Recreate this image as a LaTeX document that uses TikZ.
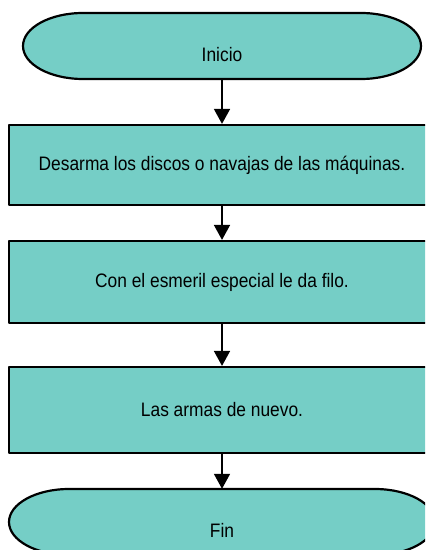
\documentclass[tikz,border=0pt]{standalone}
\usepackage{fontspec}
\setmainfont{Liberation Sans}[FakeStretch=0.89]
\usepackage{tikz}
\usetikzlibrary{arrows.meta}
\definecolor{teal}{RGB}{117, 206, 198}
\newcommand{\terminador}[6]{
  % #1 nombre, #2/#3 centro, #4 media anchura, #5 texto, #6 anchura
  \pgfmathsetmacro{\xa}{#2 - #4 + 60}
  \pgfmathsetmacro{\xb}{#2 + #4 - 60}
  \filldraw[forma] (\xa, #3 + 33) -- (\xb, #3 + 33)
    arc[start angle=90, end angle=-90, x radius=60bp, y radius=33bp]
    -- (\xa, #3 - 33)
    arc[start angle=270, end angle=90, x radius=60bp, y radius=33bp]
    -- cycle;
  \node[terminal, minimum width=#6] (#1) at (#2, #3) {#5};
}

\begin{document}
\begin{tikzpicture}[x=1bp, y=1bp,
    forma/.style={fill=teal, draw=black, line width=2.2bp, line join=round},
    terminal/.style={draw=none, minimum height=66bp, inner sep=0pt,
      text height=31.8bp, text depth=0pt, font=\fontsize{19.5bp}{23bp}\selectfont},
    paso/.style={forma, rectangle, minimum width=426bp, inner sep=0pt,
      font=\fontsize{19.5bp}{23bp}\selectfont},
    flecha/.style={-{Triangle[length=15bp, width=16bp]}, line width=1.7bp}]
  \useasboundingbox (0, 0) rectangle (425, -550);
  \clip (0, 0) rectangle (425, -550);

  % Inicio
  \terminador{inicio}{222}{-46}{199}{Inicio}{398bp}

  % pasos
  \node[paso, minimum height=80bp] (desarma) at (222, -165)
    {Desarma los discos o navajas de las m\'aquinas.};
  \node[paso, minimum height=82bp] (esmeril) at (222, -282)
    {Con el esmeril especial le da filo.};
  \node[paso, minimum height=86bp] (armas) at (222, -410)
    {Las armas de nuevo.};

  % Fin
  \terminador{fin}{222}{-522}{213}{Fin}{426bp}

  \foreach \a/\b in {inicio/desarma, desarma/esmeril, esmeril/armas, armas/fin} {
    \draw[flecha] (\a) -- (\b);
  };
\end{tikzpicture}
\end{document}
